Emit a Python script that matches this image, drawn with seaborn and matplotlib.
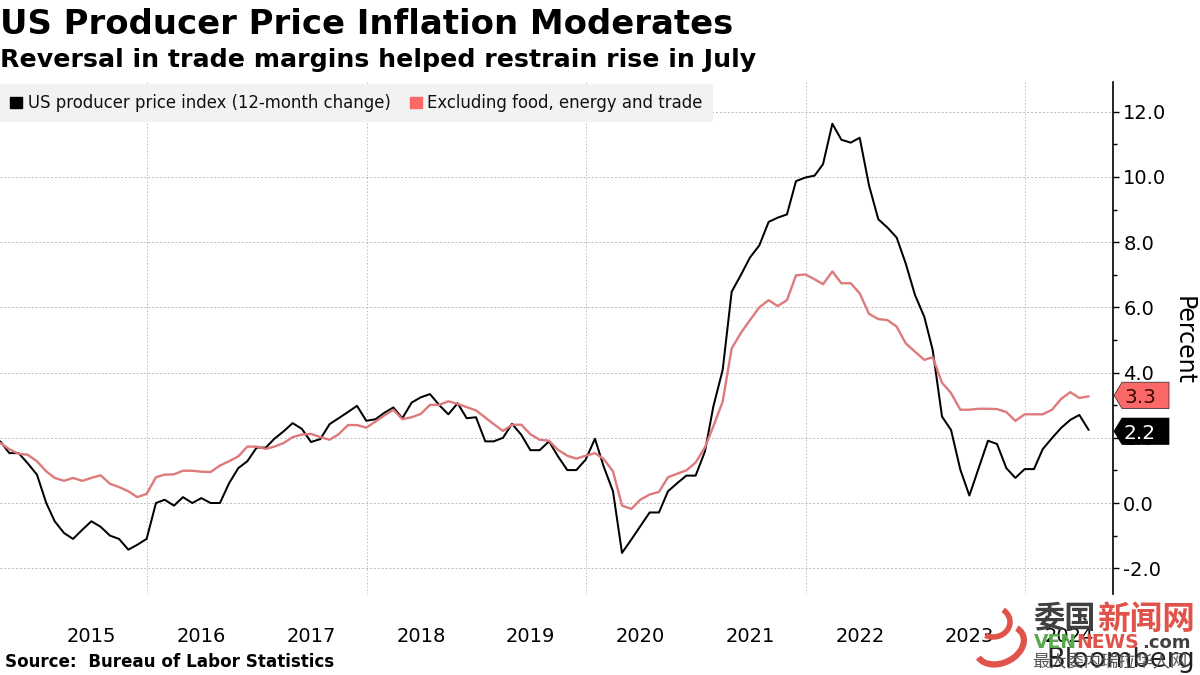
import matplotlib
matplotlib.use("Agg")
import matplotlib.pyplot as plt
from matplotlib.patches import Patch, Polygon, Arc
from matplotlib.transforms import blended_transform_factory
import seaborn as sns
import pandas as pd

sns.set_theme(style="white")
plt.rcParams['font.family'] = ['DejaVu Sans']

start_month = "2014-08-31"
ppi = [1.89,1.53,1.53,1.22,0.87,0.0,-0.56,-0.92,-1.1,-0.82,-0.56,-0.73,-1.0,-1.1,-1.43,-1.28,-1.1,0.0,0.1,-0.08,
       0.18,0.0,0.15,0.0,0.0,0.6,1.07,1.28,1.7,1.7,1.97,2.2,2.45,2.27,1.87,1.96,2.42,2.6,2.79,2.98,
       2.52,2.57,2.76,2.93,2.6,3.08,3.24,3.34,3.0,2.72,3.06,2.6,2.63,1.89,1.89,2.0,2.43,2.09,1.62,1.62,
       1.89,1.43,1.01,1.01,1.33,1.97,1.12,0.36,-1.53,-1.12,-0.71,-0.29,-0.29,0.36,0.61,0.84,0.84,1.58,2.96,4.08,
       6.48,7.0,7.53,7.9,8.62,8.75,8.85,9.87,9.98,10.04,10.39,11.63,11.14,11.05,11.2,9.74,8.7,8.45,8.14,7.35,
       6.38,5.71,4.69,2.65,2.24,1.02,0.23,1.07,1.91,1.81,1.07,0.77,1.04,1.04,1.65,1.99,2.3,2.55,2.7,2.24]
core = [1.84,1.65,1.51,1.48,1.28,0.97,0.77,0.68,0.77,0.68,0.77,0.85,0.59,0.49,0.36,0.18,0.28,0.79,0.87,0.88,
        0.99,0.99,0.96,0.95,1.15,1.28,1.43,1.73,1.73,1.66,1.73,1.84,2.02,2.1,2.12,2.02,1.94,2.11,2.39,2.39,
        2.31,2.5,2.68,2.86,2.57,2.63,2.73,3.01,3.01,3.12,3.04,2.94,2.84,2.62,2.42,2.21,2.4,2.4,2.11,1.94,
        1.91,1.63,1.45,1.36,1.45,1.53,1.35,0.97,-0.08,-0.18,0.1,0.26,0.34,0.79,0.9,1.0,1.24,1.71,2.35,3.11,
        4.74,5.22,5.61,6.0,6.22,6.04,6.22,6.98,7.01,6.86,6.71,7.1,6.74,6.74,6.43,5.8,5.64,5.61,5.41,4.9,
        4.64,4.39,4.47,3.69,3.37,2.86,2.86,2.89,2.89,2.88,2.79,2.52,2.72,2.72,2.72,2.86,3.19,3.4,3.22,3.27]
series_names = ["US producer price index (12-month change)", "Excluding food, energy and trade"]
year_labels = ["2015","2016","2017","2018","2019","2020","2021","2022","2023","2024"]
last_labels = ["2.2", "3.3"]
ytick_values = [-2, 0, 2, 4, 6, 8, 10, 12]

W, H = 1200, 675
fig = plt.figure(figsize=(W/100, H/100), dpi=100, facecolor="white")
ax = fig.add_axes([0, 1-594/H, 1113/W, (594-82)/H], facecolor="white")

dates = pd.date_range(start_month, periods=len(ppi), freq="ME")
df = pd.DataFrame({"date": list(dates)*2, "value": ppi+core,
                   "series": [series_names[0]]*len(ppi)+[series_names[1]]*len(core)})
LINE_RED = "#dd7a7a"; TAG_RED = "#fb6868"
sns.lineplot(data=df, x="date", y="value", hue="series", hue_order=series_names,
             palette=["black", LINE_RED], lw=1.45, ax=ax, legend=False, zorder=3)
ax.lines[1].set_zorder(4); ax.lines[1].set_linewidth(1.7)

ax.set_xlim(pd.Timestamp("2014-08-30"), pd.Timestamp("2024-10-20"))
ax.set_ylim(-2.79, 12.91)
ax.set_xlabel(""); ax.set_ylabel("")
for s in ["top", "left", "bottom"]:
    ax.spines[s].set_visible(False)
ax.spines["right"].set_color("black"); ax.spines["right"].set_linewidth(1.2)

ax.yaxis.tick_right()
ax.set_yticks(ytick_values)
ax.set_yticklabels([f"{v:.1f}" for v in ytick_values], fontsize=14, color="black")
ax.set_yticks(range(-1, 13, 2), minor=True)
ax.tick_params(axis="y", which="major", length=4.3, width=1, color="black", pad=3, right=True, left=False)
ax.tick_params(axis="y", which="minor", length=3, width=1, color="black", right=True, left=False)
ax.grid(False)
ax.grid(True, axis="y", which="major", ls=(0, (2, 2)), lw=0.7, color="#bcbcbc")

ax.set_xticks([pd.Timestamp(f"{y}-01-01") for y in (2016, 2018, 2020, 2022, 2024)])
ax.set_xticklabels([])
ax.tick_params(axis="x", which="major", length=0)
ax.grid(True, axis="x", which="major", ls=(0, (1.5, 2)), lw=0.7, color="#bcbcbc")
label_pos = [pd.Timestamp(f"{y}-07-01") for y in year_labels[:-1]] + [pd.Timestamp("2024-05-26")]
ax.set_xticks(label_pos, minor=True)
ax.set_xticklabels(year_labels, minor=True, fontsize=14, color="black")
ax.tick_params(axis="x", which="minor", length=0, pad=23.5)
ax.set_axisbelow(True)

ax.legend(handles=[Patch(color="black", label=series_names[0]), Patch(color=TAG_RED, label=series_names[1])],
          loc="upper left", bbox_to_anchor=(0, 1-2/512), borderaxespad=0, ncol=2, fontsize=11.9,
          frameon=True, facecolor="#f2f2f2", edgecolor="none", framealpha=1, fancybox=False,
          handlelength=0.72, handleheight=0.72, handletextpad=0.35, columnspacing=1.15,
          borderpad=0.62, labelcolor="#111111").set_zorder(6)

trans = blended_transform_factory(fig.transFigure, ax.transData)
def tag(val, label, fc, tc):
    half = 13.2/32.6
    xs = [1114/W, 1122/W, 1169/W, 1169/W, 1122/W]
    ys = [val, val+half, val+half, val-half, val-half]
    ax.add_patch(Polygon(list(zip(xs, ys)), closed=True, transform=trans, fc=fc,
                         ec="#222222" if fc != "black" else "black", lw=0.5, clip_on=False, zorder=7))
    ax.text(1140/W, val, label, transform=trans, ha="center", va="center_baseline", fontsize=14.5, color=tc, zorder=8)
tag(float(last_labels[1]), last_labels[1], TAG_RED, "#3a0505")
tag(float(last_labels[0]), last_labels[0], "black", "white")

fig.text(1184/W, 1-341/H, "Percent", rotation=-90, ha="center", va="center", fontsize=17, color="black")

fig.text(0, 1-25/H, "US Producer Price Inflation Moderates", fontsize=24.4, fontweight="bold", va="center", color="black")
fig.text(0, 1-60/H, "Reversal in trade margins helped restrain rise in July", fontsize=18.2, fontweight="bold", va="center", color="black")
fig.text(5/W, 1-662/H, "Source:  Bureau of Labor Statistics", fontsize=12.1, fontweight="bold", va="center", color="black")
fig.text(1195/W, 1-660/H, "Bloomberg", fontsize=19.6, ha="right", va="center", color="#222222", zorder=1)

# site watermark drawn over the chart, as in the reference
cjk = ["Noto Sans CJK SC", "DejaVu Sans"]
fig.text(1033/W, 1-619/H, "委国", family=cjk, fontsize=22.5, fontweight="bold", ha="left", va="center", color="#404040", zorder=10)
fig.text(1097/W, 1-619/H, "新闻网", family=cjk, fontsize=23.5, fontweight="bold", ha="left", va="center", color="#e0534a", zorder=10)
fig.text(1034/W, 1-643/H, "VEN", fontsize=13.5, fontweight="bold", ha="left", va="center", color="#5aa84e", zorder=10)
fig.text(1076/W, 1-643/H, "NEWS", fontsize=13.5, fontweight="bold", ha="left", va="center", color="#e0534a", zorder=10)
fig.text(1142/W, 1-643/H, ".com", fontsize=13, fontweight="bold", ha="left", va="center", color="#404040", zorder=10)
fig.text(1032/W, 1-661/H, "最大委内瑞拉华人网", family=cjk, fontsize=12.4, ha="left", va="center", color="#555555", zorder=10)
logo = fig.add_axes([0, 0, 1, 1], facecolor="none", zorder=9)
logo.set_xlim(0, W); logo.set_ylim(H, 0); logo.axis("off")
logo.add_patch(Arc((1000, 645), 50, 36, angle=-25, theta1=-20, theta2=175, color="#e0534a", lw=4.5))
logo.add_patch(Arc((993, 622), 34, 30, angle=0, theta1=-50, theta2=120, color="#e0534a", lw=4))

fig.savefig("out.png", dpi=100)
